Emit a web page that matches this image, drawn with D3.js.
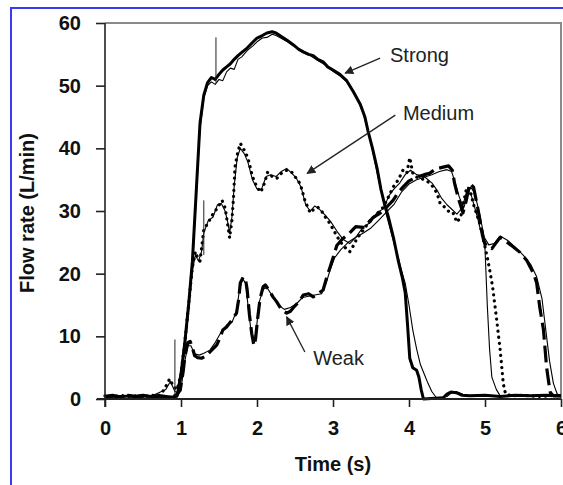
<!DOCTYPE html>
<meta charset="utf-8">
<style>
    body { margin: 0; background: #fff; }
    svg { display: block; font-family: "Liberation Sans", Arial, sans-serif; }
    .axis text { font-size: 20px; font-weight: bold; fill: #111; }
    .axis path, .axis line { stroke: #222; }
    .note { font-size: 20px; fill: #222; }
</style>
<svg width="563" height="485"></svg>
<script src="https://cdn.jsdelivr.net/npm/d3@7/dist/d3.min.js"></script>
<script>

    // flow traces: [time (s), flow (L/min)]
    var strong = [[0,0.4],[0.1,0.6],[0.2,0.3],[0.3,0.5],[0.4,0.4],[0.5,0.6],[0.6,0.4],[0.7,0.5],[0.8,0.4],[0.9,0.3],[0.95,0.5],
        [1.0,4],[1.05,9],[1.1,15],[1.15,22],[1.2,33],[1.25,44],[1.3,48.5],[1.35,50.5],[1.4,51.3],[1.45,51],[1.5,51.8],[1.55,52.5],
        [1.6,53],[1.65,53.5],[1.7,54.2],[1.75,54.8],[1.8,55.3],[1.87,56],[1.95,57],[2.0,57.6],[2.07,58],[2.13,58.4],[2.2,58.6],
        [2.25,58.4],[2.3,58],[2.35,57.6],[2.4,57.2],[2.48,56.5],[2.55,55.8],[2.61,55.4],[2.68,55],[2.74,54.8],[2.8,54.2],[2.87,53.8],
        [2.93,53],[3.0,52.5],[3.09,51.8],[3.18,50.8],[3.27,49],[3.36,47],[3.42,45],[3.46,42.8],[3.52,40],[3.58,36.8],[3.63,33.5],
        [3.68,31],[3.73,29],[3.8,25.5],[3.86,22],[3.91,19.5],[3.95,17],[3.98,12],[4.01,6.5],[4.05,5],[4.1,4.6],[4.13,3.5],[4.16,1.5],
        [4.19,0],[4.45,0.2],[4.5,0.8],[4.55,1.1],[4.62,1],[4.7,0.6],[4.8,0.5],[5.0,0.6],[5.2,0.4],[5.4,0.6],[5.6,0.5],[5.8,0.6],[6,0.5]];

    var strongRef = [[0,0.3],[0.2,0.5],[0.4,0.3],[0.6,0.5],[0.8,0.3],[0.95,0.3],[1.0,3],[1.05,8],[1.1,14],[1.15,21],[1.2,32],[1.25,43],
        [1.3,48],[1.35,50],[1.4,50.6],[1.45,50.2],[1.5,51],[1.55,50.8],[1.6,52.2],[1.65,52.8],[1.7,52.6],[1.75,54.2],[1.8,54.6],[1.87,55.6],
        [1.95,56.4],[2.0,57],[2.07,57.6],[2.13,57.7],[2.2,58.2],[2.25,58],[2.3,57.7],[2.4,57],[2.5,56.2],[2.6,55.3],[2.7,54.8],
        [2.8,54],[2.9,53.3],[3.0,52.3],[3.1,51.5],[3.2,50.4],[3.3,48.5],[3.4,45.5],[3.5,40.8],[3.6,35],[3.7,29.5],[3.8,25],[3.86,22.5],
        [3.9,20.5],[3.95,18.5],[4.0,15],[4.05,11],[4.1,8],[4.15,5.5],[4.2,4],[4.25,2.5],[4.3,1.2],[4.36,0.2],[4.45,0.3],[4.5,0.4],
        [4.55,0.9],[4.62,1.2],[4.7,0.8],[4.75,0.4],[5.0,0.5],[5.5,0.4],[6,0.5]];

    var medium = [[0,0.5],[0.1,0.3],[0.2,0.6],[0.3,0.4],[0.4,0.5],[0.5,0.3],[0.6,0.6],[0.7,0.5],[0.75,1],[0.8,2],[0.85,3.2],
        [0.88,2.5],[0.9,2],[0.95,1.5],[1.0,4],[1.05,9],[1.1,15],[1.15,21],[1.19,23.5],[1.22,22.5],[1.25,22],[1.28,25],[1.3,27],
        [1.35,28],[1.42,29.5],[1.48,30.5],[1.54,31.7],[1.58,30.5],[1.6,29],[1.64,25.7],[1.67,28.5],[1.69,32],[1.71,37],[1.75,39.5],
        [1.78,40.8],[1.82,40],[1.88,38.5],[1.94,35.5],[2.0,33.8],[2.05,33],[2.1,34.5],[2.14,36.2],[2.2,35.5],[2.26,35.2],[2.32,36],
        [2.39,36.5],[2.45,36.3],[2.5,35.5],[2.57,34.3],[2.63,31.7],[2.7,29.7],[2.75,30.3],[2.8,30.6],[2.85,30],[2.9,29],[2.96,28],
        [3.05,26],[3.13,24.5],[3.22,23.5],[3.27,24.5],[3.31,25.5],[3.4,27],[3.49,28.5],[3.58,29.5],[3.66,30.6],[3.72,32],[3.79,33.8],
        [3.86,35],[3.92,36.5],[3.97,36],[4.01,38.5],[4.05,36],[4.1,35.4],[4.2,35],[4.27,34.5],[4.32,33.8],[4.37,32.8],[4.41,31.2],
        [4.48,30.5],[4.54,29.7],[4.58,29.7],[4.63,28.2],[4.68,29],[4.72,31.5],[4.76,33.8],[4.8,33.5],[4.85,31],[4.93,28],[5.0,24.3],
        [5.04,22],[5.07,20],[5.1,17.9],[5.15,13],[5.2,7.8],[5.24,2.5],[5.27,0.8],[5.35,0.5],[5.5,0.6],[5.7,0.4],[6,0.6]];

    var mediumRef = [[0,0.4],[0.3,0.5],[0.6,0.4],[0.8,1.5],[0.86,2.8],[0.92,1.2],[0.97,1],[1.0,3.5],[1.05,8.5],[1.1,14.5],[1.15,20.5],
        [1.19,23],[1.23,22],[1.27,23.5],[1.3,26.5],[1.36,28.5],[1.42,29],[1.48,31],[1.53,31.2],[1.58,30],[1.61,28.5],[1.64,26.5],
        [1.67,29],[1.7,34],[1.74,38.5],[1.78,40],[1.83,39.2],[1.88,37.8],[1.94,35],[2.0,33.5],[2.06,33.5],[2.12,35.5],[2.18,35.8],
        [2.25,35.5],[2.32,36.3],[2.39,36.8],[2.46,36],[2.52,35.2],[2.58,33.8],[2.64,31],[2.7,30],[2.76,30.8],[2.82,30.3],[2.9,29.3],
        [2.97,28.3],[3.05,26.8],[3.13,25.5],[3.22,24.8],[3.3,25.8],[3.4,27.5],[3.5,28.2],[3.58,29.8],[3.66,30.3],[3.74,32.5],
        [3.8,33.5],[3.88,34.5],[3.95,35.8],[4.02,36.5],[4.1,35.8],[4.2,35.5],[4.3,34.5],[4.37,33.3],[4.43,32],[4.5,31],[4.57,30.2],
        [4.63,29.5],[4.7,30.5],[4.76,33.2],[4.82,32.5],[4.9,29],[4.96,26],[5.0,24],[5.03,15],[5.06,8],[5.09,3.5],[5.15,1.5],
        [5.2,0.5],[5.5,0.4],[6,0.5]];

    var weak = [[0,0.4],[0.1,0.5],[0.2,0.3],[0.3,0.6],[0.4,0.4],[0.5,0.5],[0.6,0.3],[0.7,0.5],[0.8,0.4],[0.9,0.4],[0.95,0.8],
        [0.99,1.4],[1.03,4.5],[1.05,6.7],[1.09,9],[1.12,9.2],[1.14,8.6],[1.18,6.9],[1.22,6.6],[1.27,6.5],[1.32,6.8],[1.38,7.5],
        [1.42,8],[1.47,8.6],[1.52,10],[1.55,11],[1.6,11.5],[1.67,12.6],[1.73,13.7],[1.76,16],[1.78,18.5],[1.82,19.5],[1.85,19],
        [1.87,17.5],[1.9,13.5],[1.93,10.5],[1.96,8.5],[1.98,9.5],[2.01,13],[2.04,16],[2.08,17.9],[2.11,18.2],[2.15,17.5],[2.21,16.3],
        [2.26,15.5],[2.3,14.7],[2.35,14],[2.39,13.7],[2.44,14],[2.48,14.6],[2.55,15.5],[2.61,16.6],[2.68,16.8],[2.74,16.3],[2.8,16.8],
        [2.87,17.4],[2.92,19.5],[2.96,21],[3.0,22.5],[3.05,24.5],[3.12,25.5],[3.22,26.5],[3.3,27.5],[3.4,27.4],[3.47,28.2],[3.53,29],
        [3.6,29.5],[3.66,30],[3.72,30.8],[3.79,31.7],[3.86,33],[3.92,33.8],[4.0,34.8],[4.1,35.4],[4.2,35.8],[4.27,36],[4.35,36.7],
        [4.45,37],[4.52,37.2],[4.57,36.5],[4.6,34.4],[4.65,32],[4.71,29.7],[4.75,31.5],[4.8,34.4],[4.85,33.8],[4.91,30.1],[4.98,25.4],
        [5.02,24.3],[5.09,24],[5.15,25],[5.2,25.8],[5.29,25],[5.37,24.3],[5.46,23.4],[5.55,22.1],[5.64,20],[5.68,18.5],[5.72,14.7],
        [5.77,11],[5.81,5.1],[5.84,2.5],[5.86,1],[5.9,0.5],[6,0.5]];

    var weakRef = [[0,0.3],[0.3,0.4],[0.6,0.3],[0.9,0.3],[0.97,0.8],[1.01,2.5],[1.05,6],[1.09,8.5],[1.13,8.5],[1.18,7.2],[1.24,7],
        [1.3,7.3],[1.38,7.8],[1.45,9],[1.52,10.5],[1.6,11.8],[1.67,12.2],[1.73,14],[1.77,17.5],[1.81,19.2],[1.85,18.5],[1.89,14],
        [1.93,10],[1.96,9],[1.99,11],[2.03,15.5],[2.08,17.5],[2.13,17.8],[2.2,16.5],[2.28,15],[2.36,14.3],[2.44,14.6],[2.52,15.2],
        [2.6,16.2],[2.68,16.4],[2.76,16.6],[2.85,16.8],[2.91,18.5],[2.96,20.5],[3.02,22.5],[3.1,23.8],[3.2,25],[3.3,25.8],[3.4,26.5],
        [3.5,27.3],[3.6,28.5],[3.7,29.8],[3.8,31],[3.9,33],[4.0,34.3],[4.1,35],[4.2,35.4],[4.3,35.8],[4.4,36.3],[4.5,36.6],[4.56,36.3],
        [4.6,34.8],[4.66,32.3],[4.72,30.5],[4.77,32.5],[4.81,33.8],[4.86,33],[4.93,29.5],[4.99,25.8],[5.05,24.6],[5.12,24.8],
        [5.2,26],[5.3,25.3],[5.4,24.2],[5.5,23],[5.6,21.5],[5.68,19.5],[5.75,16],[5.8,11],[5.85,6],[5.9,2.5],[5.95,0.8],[6,0.5]];

    // thin vertical event marks: [time, from, to]
    var marks = [[0.92, 0.5, 9.5], [1.3, 23, 31.7], [1.46, 50.5, 57.7]];

    // callouts: label, text anchor point, arrow tail, arrow head
    var notes = [
        { label: "Strong", at: [3.75, 53.8], from: [3.62, 54.4], to: [3.16, 52.0] },
        { label: "Medium", at: [3.92, 44.5], from: [3.82, 45.3], to: [2.66, 36.0] },
        { label: "Weak",   at: [2.74, 5.5],  from: [2.63, 7.5],  to: [2.39, 13.1] }
    ];

    var xTicks = [0, 1, 2, 3, 4, 5, 6],
        yTicks = [0, 10, 20, 30, 40, 50, 60];

    var svg = d3.select("svg"),
        width = +svg.attr("width"),
        height = +svg.attr("height");

    var x = d3.scaleLinear().domain([0, 6]).range([105, 561]);
    var y = d3.scaleLinear().domain([0, 60]).range([399, 23]);

    // blue border of the figure
    svg.append("path")
        .attr("d", "M11," + height + "V8H" + width)
        .attr("fill", "none")
        .attr("stroke", "#3a3af2")
        .attr("stroke-width", 2);

    // plot frame (top / right)
    svg.append("path")
        .attr("d", "M" + x(0) + "," + y(60) + "H" + x(6) + "V" + y(0))
        .attr("fill", "none")
        .attr("stroke", "#8a8a8a")
        .attr("stroke-width", 2);

    var line = d3.line()
        .x(function(d) { return x(d[0]); })
        .y(function(d) { return y(d[1]); });

    var traces = [
        { data: strongRef, w: 1.1, dash: null },
        { data: mediumRef, w: 1.1, dash: null },
        { data: weakRef,   w: 1.1, dash: null },
        { data: strong,    w: 3,   dash: null },
        { data: medium,    w: 3.2, dash: "0.1 6" },
        { data: weak,      w: 3.2, dash: "17 6" }
    ];

    svg.append("g").selectAll("path")
        .data(traces)
        .enter().append("path")
        .attr("d", function(d) { return line(d.data); })
        .attr("fill", "none")
        .attr("stroke", "#000")
        .attr("stroke-width", function(d) { return d.w; })
        .attr("stroke-linejoin", "round")
        .attr("stroke-linecap", function(d) { return d.dash === "0.1 6" ? "round" : "butt"; })
        .attr("stroke-dasharray", function(d) { return d.dash; });

    svg.append("g").selectAll("line")
        .data(marks)
        .enter().append("line")
        .attr("x1", function(d) { return x(d[0]); })
        .attr("x2", function(d) { return x(d[0]); })
        .attr("y1", function(d) { return y(d[1]); })
        .attr("y2", function(d) { return y(d[2]); })
        .attr("stroke", "#222")
        .attr("stroke-width", 1);

    // axes
    var yAxis = svg.append("g")
        .attr("class", "axis")
        .attr("transform", "translate(" + x(0) + ",0)")
        .call(d3.axisLeft(y).tickValues(yTicks).tickFormat(d3.format("d")).tickSize(9).tickPadding(15).tickSizeOuter(0));
    yAxis.select(".domain").attr("d", "M0," + y(60) + "V" + (y(0) + 8)).attr("stroke-width", 1.6);
    yAxis.selectAll(".tick line").attr("stroke-width", 1.6);

    var xAxis = svg.append("g")
        .attr("class", "axis")
        .attr("transform", "translate(0," + y(0) + ")")
        .call(d3.axisBottom(x).tickValues(xTicks).tickFormat(d3.format("d")).tickSize(8).tickPadding(14).tickSizeOuter(0));
    xAxis.select(".domain").attr("d", "M" + (x(0) - 8) + ",0H" + x(6)).attr("stroke-width", 2.2);
    xAxis.selectAll(".tick line").attr("stroke-width", 1.6);

    svg.append("text")
        .attr("class", "axis-title")
        .attr("x", (x(0) + x(6)) / 2)
        .attr("y", 471)
        .attr("text-anchor", "middle")
        .style("font-size", "20px").style("font-weight", "bold").style("fill", "#111")
        .text("Time (s)");

    svg.append("text")
        .attr("transform", "translate(34," + (y(30) + 2) + ") rotate(-90)")
        .attr("text-anchor", "middle")
        .style("font-size", "20px").style("font-weight", "bold").style("fill", "#111")
        .text("Flow rate (L/min)");

    // callouts with arrows
    svg.append("defs").append("marker")
        .attr("id", "head")
        .attr("viewBox", "0 0 10 10")
        .attr("refX", 9).attr("refY", 5)
        .attr("markerWidth", 9).attr("markerHeight", 9)
        .attr("markerUnits", "userSpaceOnUse")
        .attr("orient", "auto")
        .append("path")
        .attr("d", "M0,0L10,5L0,10z")
        .attr("fill", "#222");

    var note = svg.append("g").selectAll("g")
        .data(notes)
        .enter().append("g");

    note.append("line")
        .attr("x1", function(d) { return x(d.from[0]); })
        .attr("y1", function(d) { return y(d.from[1]); })
        .attr("x2", function(d) { return x(d.to[0]); })
        .attr("y2", function(d) { return y(d.to[1]); })
        .attr("stroke", "#222")
        .attr("stroke-width", 1.3)
        .attr("marker-end", "url(#head)");

    note.append("text")
        .attr("class", "note")
        .attr("x", function(d) { return x(d.at[0]); })
        .attr("y", function(d) { return y(d.at[1]); })
        .text(function(d) { return d.label; });

</script>
